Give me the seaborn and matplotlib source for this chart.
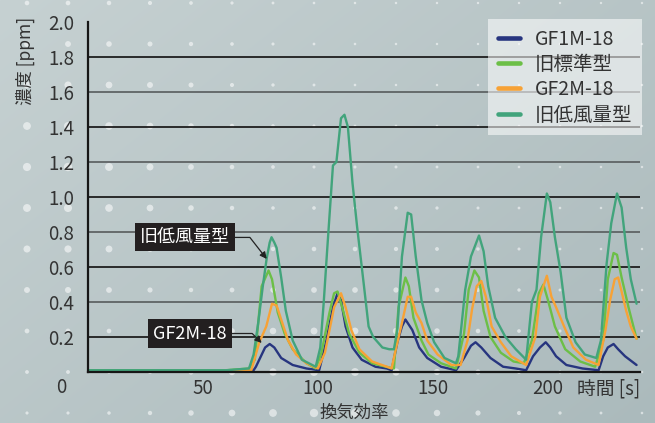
import matplotlib
matplotlib.use('Agg')
import matplotlib.pyplot as plt
from matplotlib.lines import Line2D
import numpy as np
import pandas as pd
import seaborn as sns

series_names = ['GF1M-18', '旧標準型', 'GF2M-18', '旧低風量型']
series_colors = ['#27357f', '#6cbf47', '#f7a236', '#42a47c']

# GF1M-18
t_navy = [0, 30, 60, 72, 73, 77, 79, 81, 84, 89,
          95, 100.5, 103.5, 106.5, 108.5, 110, 112, 115, 119, 125,
          130, 132, 134.5, 136.5, 138, 141, 144, 147.5, 153.5, 160,
          163.5, 166.5, 168.5, 171, 175, 180.5, 186, 190.5, 193.5, 196.5,
          199, 201, 203.5, 208, 215, 222, 224, 226, 228.5, 230.5,
          233.5, 238.5]
v_navy = [0.005, 0.005, 0.005, 0.01, 0.03, 0.14, 0.16, 0.14, 0.08, 0.04,
          0.02, 0.01, 0.17, 0.37, 0.45, 0.41, 0.26, 0.14, 0.07, 0.03,
          0.02, 0.01, 0.17, 0.26, 0.30, 0.24, 0.14, 0.08, 0.03, 0.01,
          0.08, 0.15, 0.17, 0.14, 0.08, 0.03, 0.02, 0.01, 0.09, 0.14,
          0.17, 0.14, 0.09, 0.04, 0.02, 0.01, 0.09, 0.14, 0.16, 0.13,
          0.09, 0.04]

# 旧標準型
t_green = [0, 30, 60, 70, 72.5, 75.5, 78.5, 80, 82.5, 85.5,
           89, 95, 99, 101.5, 105, 107, 108.5, 110.5, 113.5, 118,
           123.5, 129.5, 133, 135, 138, 139.5, 141.5, 145, 148, 153.5,
           160, 163.5, 165.5, 168, 170, 172, 175, 179.5, 185, 189.5,
           193, 196, 198, 200, 203, 207.5, 214, 220.5, 224, 226,
           228.5, 230, 232, 235, 238.5]
v_green = [0.01, 0.01, 0.01, 0.02, 0.07, 0.49, 0.58, 0.53, 0.34, 0.22,
           0.13, 0.05, 0.02, 0.11, 0.34, 0.45, 0.46, 0.37, 0.22, 0.11,
           0.05, 0.03, 0.02, 0.37, 0.54, 0.49, 0.31, 0.18, 0.10, 0.05,
           0.02, 0.22, 0.47, 0.58, 0.54, 0.35, 0.20, 0.11, 0.06, 0.05,
           0.18, 0.45, 0.50, 0.41, 0.26, 0.13, 0.06, 0.03, 0.18, 0.53,
           0.68, 0.67, 0.54, 0.37, 0.19]

# GF2M-18
t_orange = [0, 30, 60, 71, 74.5, 77.5, 80, 82, 84, 87,
            90.5, 95, 100, 103, 105, 107, 110, 112, 114.5, 118,
            123.5, 130, 132, 134, 136.5, 139, 140.5, 142.5, 145, 147.5,
            152, 158, 162, 165, 167, 169, 171, 173, 175.5, 179.5,
            184, 190.5, 194.5, 196.5, 199.5, 201.5, 203.5, 207, 211,
            216.5, 222, 225, 227, 229, 230.5, 232, 234, 236, 238.5]
v_orange = [0.005, 0.005, 0.005, 0.01, 0.17, 0.26, 0.39, 0.38, 0.30, 0.18,
            0.10, 0.05, 0.02, 0.11, 0.24, 0.37, 0.45, 0.37, 0.24, 0.13,
            0.06, 0.03, 0.02, 0.14, 0.28, 0.43, 0.43, 0.34, 0.28, 0.18,
            0.10, 0.04, 0.04, 0.18, 0.36, 0.49, 0.52, 0.43, 0.26, 0.17,
            0.09, 0.04, 0.20, 0.43, 0.55, 0.43, 0.37, 0.26, 0.14,
            0.07, 0.04, 0.24, 0.41, 0.53, 0.54, 0.46, 0.35, 0.26, 0.19]

# 旧低風量型
t_teal = [0, 30, 60, 70, 72, 74, 76, 77.7, 79, 79.8,
          81, 82, 84, 86, 89, 93, 99, 101, 102.5, 104,
          106.5, 108, 110, 111.5, 113, 115, 117, 120, 122, 124,
          128, 131, 133, 134.5, 136.5, 139, 140.5, 142.5, 145, 147.5,
          150.5, 155, 160, 161, 164, 166.5, 170, 172, 174, 177,
          181.5, 186, 190.5, 193, 195, 197, 199.5, 201, 203, 205.5,
          208, 212, 216, 221, 223, 225.5, 227.5, 230, 232, 234,
          236, 238.5]
v_teal = [0.01, 0.01, 0.01, 0.02, 0.10, 0.28, 0.49, 0.65, 0.74, 0.77,
          0.74, 0.71, 0.54, 0.35, 0.18, 0.07, 0.03, 0.14, 0.40, 0.70,
          1.18, 1.20, 1.45, 1.47, 1.40, 1.08, 0.83, 0.49, 0.26, 0.20,
          0.14, 0.13, 0.13, 0.24, 0.66, 0.91, 0.90, 0.66, 0.41, 0.28,
          0.17, 0.08, 0.05, 0.09, 0.47, 0.66, 0.78, 0.69, 0.49, 0.31,
          0.20, 0.13, 0.07, 0.40, 0.47, 0.77, 1.02, 0.97, 0.77, 0.57,
          0.31, 0.17, 0.10, 0.08, 0.18, 0.62, 0.85, 1.02, 0.94, 0.71,
          0.53, 0.39]

x_ticks = [50, 100, 150, 200]
y_ticks = [0.2, 0.4, 0.6, 0.8, 1.0, 1.2, 1.4, 1.6, 1.8, 2.0]
y_labels = ['0.2', '0.4', '0.6', '0.8', '1.0', '1.2', '1.4', '1.6', '1.8', '2.0']

series_t = [t_navy, t_green, t_orange, t_teal]
series_v = [v_navy, v_green, v_orange, v_teal]
frames = []
for name, t, v in zip(series_names, series_t, series_v):
    frames.append(pd.DataFrame({'t': t, 'v': v, 'series': name}))
df = pd.concat(frames, ignore_index=True)

sns.set_theme(style='white')
plt.rcParams['font.family'] = ['Noto Sans CJK JP', 'DejaVu Sans']

W, H = 655, 423
fig = plt.figure(figsize=(W / 100, H / 100), dpi=100)

# background gradient + halftone dots
bg = fig.add_axes([0, 0, 1, 1], zorder=-10)
yy, xx = np.mgrid[0:H, 0:W]
w = (xx / W) * 0.55 + (yy / H) * 0.45
c0 = np.array([0xc6, 0xd1, 0xd2]) / 255
c1 = np.array([0xab, 0xba, 0xbc]) / 255
img = c0[None, None, :] * (1 - w[..., None]) + c1[None, None, :] * w[..., None]
bg.imshow(img, extent=[0, W, H, 0], aspect='auto')
dx, dy = np.meshgrid(27 + 41 * np.arange(16), 3 + 41 * np.arange(11))
g1 = np.exp(-((dx - 60) ** 2 + (dy - 170) ** 2) / (2 * 120 ** 2))
g2 = np.exp(-((dx - 330) ** 2 + (dy - 420) ** 2) / (2 * 120 ** 2))
r = 1.2 + 3.0 * np.maximum(g1, g2)
bg.scatter(dx.ravel(), dy.ravel(), s=(2 * r.ravel() / 1.389) ** 2, color='white', alpha=0.55, lw=0)
bg.set_xlim(0, W)
bg.set_ylim(H, 0)
bg.axis('off')

ax = fig.add_axes([88 / W, 51 / H, 552 / W, 350 / H])
ax.set_facecolor('none')

for k, yv in enumerate(y_ticks[:-1]):
    ax.axhline(yv, color='#1e1e1e' if k % 2 == 0 else '#5f6465', lw=1.3, zorder=1)

sns.lineplot(data=df, x='t', y='v', hue='series', hue_order=series_names,
             palette=series_colors, linewidth=1.7, estimator=None, legend=False, ax=ax)
for ln in ax.lines:
    ln.set_solid_joinstyle('round')

ax.set_xlim(0, 240)
ax.set_ylim(0, 2.0)
ax.set_xticks(x_ticks)
ax.set_yticks(y_ticks)
ax.set_yticklabels(y_labels)
ax.set_xlabel('')
ax.set_ylabel('')
ax.tick_params(axis='y', length=0, pad=10, labelsize=13.5, labelcolor='#333333')
ax.tick_params(axis='x', direction='in', length=2.5, width=1, color='#222222', pad=4.5,
               labelsize=13.5, labelcolor='#333333')
for s in ['top', 'right']:
    ax.spines[s].set_visible(False)
for s in ['left', 'bottom']:
    ax.spines[s].set_linewidth(1.6)
    ax.spines[s].set_color('#161616')

handles = [Line2D([0], [0], color=c, lw=3.3, solid_capstyle='round') for c in series_colors]
leg = ax.legend(handles, series_names, loc='upper left', bbox_to_anchor=(488 / W, 1 - 19 / H),
                bbox_transform=fig.transFigure, frameon=True, fontsize=14, handlelength=1.15,
                handletextpad=0.75, labelspacing=0.22, borderpad=0.5, borderaxespad=0,
                fancybox=False)
leg.get_frame().set_facecolor('white')
leg.get_frame().set_alpha(0.55)
leg.get_frame().set_edgecolor('none')
for txt in leg.get_texts():
    txt.set_color('#333333')

box = dict(boxstyle='square,pad=0.28', fc='#231f20', ec='none')
ax.annotate('旧低風量型', xy=(77.7, 0.646), xytext=(42.2, 0.769), ha='center', va='center',
            color='white', fontsize=13, bbox=box,
            arrowprops=dict(arrowstyle='-|>', color='#222222', lw=0.9, mutation_scale=10,
                            connectionstyle='angle,angleA=0,angleB=128,rad=0', shrinkA=0, shrinkB=0))
ax.annotate('GF2M-18', xy=(75.5, 0.166), xytext=(44.4, 0.22), ha='center', va='center',
            color='white', fontsize=13, bbox=box,
            arrowprops=dict(arrowstyle='-|>', color='#222222', lw=0.9, mutation_scale=10,
                            connectionstyle='angle,angleA=0,angleB=135,rad=0', shrinkA=0, shrinkB=0))

fig.text(61 / W, 1 - 387 / H, '0', ha='center', va='center', fontsize=13.5, color='#333333')
fig.text(640 / W, 1 - 389 / H, '時間 [s]', ha='right', va='center', fontsize=13.5, color='#333333')
fig.text(25 / W, 1 - 61 / H, '濃度 [ppm]', rotation=90, ha='center', va='center',
         fontsize=12.5, color='#333333')
fig.text(354 / W, 1 / H, '換気効率', ha='center', va='bottom', fontsize=12.5, color='#333333')

fig.savefig('out.png', dpi=100)
